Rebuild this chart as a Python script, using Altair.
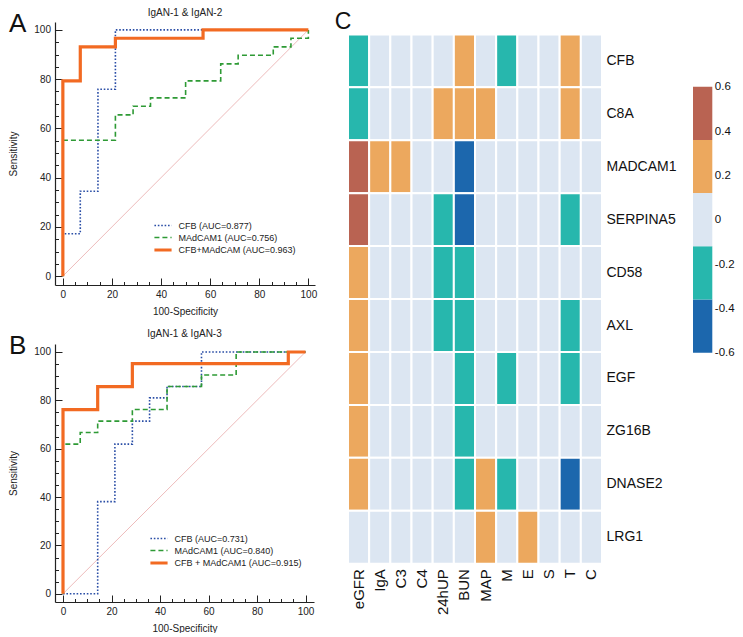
import altair as alt
import pandas as pd

FONT = "Liberation Sans"
INK = "#222222"

# ---------------- ROC data (100-Specificity, Sensitivity) ----------------
a_title = "IgAN-1 & IgAN-2"
a_labels = ["CFB (AUC=0.877)", "MAdCAM1 (AUC=0.756)", "CFB+MAdCAM (AUC=0.963)"]
a_cfb_x = [0, 0, 7.1, 7.1, 14.3, 14.3, 21.4, 21.4, 100]
a_cfb_y = [0, 17.2, 17.2, 34.5, 34.5, 75.9, 75.9, 100, 100]
a_mad_x = [0, 0, 21.4, 21.4, 28.6, 28.6, 35.7, 35.7, 50, 50, 64.3, 64.3, 71.4, 71.4, 85.7, 85.7, 92.9, 92.9, 100, 100]
a_mad_y = [0, 55.2, 55.2, 65.5, 65.5, 69.0, 69.0, 72.4, 72.4, 79.3, 79.3, 86.2, 86.2, 89.7, 89.7, 93.1, 93.1, 96.6, 96.6, 100]
a_comb_x = [0, 0, 7.1, 7.1, 21.4, 21.4, 57.1, 57.1, 100]
a_comb_y = [0, 79.3, 79.3, 93.1, 93.1, 96.6, 96.6, 100, 100]

b_title = "IgAN-1 & IgAN-3"
b_labels = ["CFB (AUC=0.731)", "MAdCAM1 (AUC=0.840)", "CFB + MAdCAM1 (AUC=0.915)"]
b_cfb_x = [0, 14.3, 14.3, 21.4, 21.4, 28.6, 28.6, 35.7, 35.7, 42.9, 42.9, 57.1, 57.1, 100]
b_cfb_y = [0, 0, 38.1, 38.1, 61.9, 61.9, 71.4, 71.4, 81.0, 81.0, 85.7, 85.7, 100, 100]
b_mad_x = [0, 0, 7.1, 7.1, 14.3, 14.3, 28.6, 28.6, 42.9, 42.9, 57.1, 57.1, 71.4, 71.4, 100]
b_mad_y = [0, 61.9, 61.9, 66.7, 66.7, 71.4, 71.4, 76.2, 76.2, 85.7, 85.7, 90.5, 90.5, 100, 100]
b_comb_x = [0, 0, 14.3, 14.3, 28.6, 28.6, 92.9, 92.9, 100]
b_comb_y = [0, 76.2, 76.2, 85.7, 85.7, 95.2, 95.2, 100, 100]

diag_x = [0, 100]
diag_y = [0, 100]
major_ticks = [0, 20, 40, 60, 80, 100]
minor_ticks = [0, 5, 10, 15, 20, 25, 30, 35, 40, 45, 50, 55, 60, 65, 70, 75, 80, 85, 90, 95, 100]

line_colors = ["#2a4ea6", "#2e9a35", "#f26a22"]
line_dashes = [[1.6, 1.8], [5, 3], [1, 0]]
line_widths = [1.6, 1.6, 3.2]

# ---------------- Heatmap data ----------------
genes = ["CFB", "C8A", "MADCAM1", "SERPINA5", "CD58", "AXL", "EGF", "ZG16B", "DNASE2", "LRG1"]
clinical = ["eGFR", "IgA", "C3", "C4", "24hUP", "BUN", "MAP", "M", "E", "S", "T", "C"]
corr_CFB      = [-0.25, 0, 0, 0, 0, 0.25, 0, -0.25, 0, 0, 0.25, 0]
corr_C8A      = [-0.25, 0, 0, 0, 0.25, 0.25, 0.25, 0, 0, 0, 0.25, 0]
corr_MADCAM1  = [0.45, 0.25, 0.25, 0, 0, -0.45, 0, 0, 0, 0, 0, 0]
corr_SERPINA5 = [0.45, 0, 0, 0, -0.25, -0.45, 0, 0, 0, 0, -0.25, 0]
corr_CD58     = [0.25, 0, 0, 0, -0.25, -0.25, 0, 0, 0, 0, 0, 0]
corr_AXL      = [0.25, 0, 0, 0, -0.25, -0.25, 0, 0, 0, 0, -0.25, 0]
corr_EGF      = [0.25, 0, 0, 0, 0, -0.25, 0, -0.25, 0, 0, -0.25, 0]
corr_ZG16B    = [0.25, 0, 0, 0, 0, -0.25, 0, 0, 0, 0, 0, 0]
corr_DNASE2   = [0.25, 0, 0, 0, 0, -0.25, 0.25, -0.25, 0, 0, -0.45, 0]
corr_LRG1     = [0, 0, 0, 0, 0, 0, 0.25, 0, 0.25, 0, 0, 0]
corr_rows = [corr_CFB, corr_C8A, corr_MADCAM1, corr_SERPINA5, corr_CD58,
             corr_AXL, corr_EGF, corr_ZG16B, corr_DNASE2, corr_LRG1]

bin_edges = [-0.36, -0.12, 0.12, 0.36]
bin_colors = ["#1c67ad", "#27b7ad", "#dce6f2", "#eca85e", "#b96352"]
cb_lo = [-0.6, -0.36, -0.12, 0.12, 0.36]
cb_hi = [-0.36, -0.12, 0.12, 0.36, 0.6]
cb_ticks = [0.6, 0.4, 0.2, 0, -0.2, -0.4, -0.6]

INDEP = dict(color="independent", strokeDash="independent", strokeWidth="independent")
LONG_STROKE = "M-1.6,0H1.6"


def roc_panel(letter, title, labels, curves, xdom, ydom, w, h, legend_xy, title_dy):
    rows = []
    for lab, (xs, ys) in zip(labels, curves):
        for i, (xv, yv) in enumerate(zip(xs, ys)):
            rows.append({"series": lab, "i": i, "x": xv, "y": yv})
    df = pd.DataFrame(rows)
    xs = alt.Scale(domain=xdom, nice=False, zero=False)
    ys = alt.Scale(domain=ydom, nice=False, zero=False)
    tick_size = {"condition": {"test": "datum.value % 20 === 0", "value": 7}, "value": 3.5}

    diag = alt.Chart(pd.DataFrame({"x": diag_x, "y": diag_y})).mark_line(
        color="#e9aaaa", strokeWidth=0.8
    ).encode(
        x=alt.X("x:Q", scale=xs, axis=alt.Axis(orient="top", offset=-h, values=minor_ticks,
                                              labels=False, domain=False, title=None, grid=False,
                                              tickColor=INK, tickWidth=1, tickSize=tick_size)),
        y=alt.Y("y:Q", scale=ys, axis=alt.Axis(orient="right", offset=-w, values=minor_ticks,
                                              labels=False, domain=False, title=None, grid=False,
                                              tickColor=INK, tickWidth=1, tickSize=tick_size)),
    )
    leg = alt.Legend(orient="none", legendX=legend_xy[0], legendY=legend_xy[1], title=None,
                     symbolType=LONG_STROKE, symbolSize=115, labelFontSize=9, labelFont=FONT,
                     labelColor=INK, labelOffset=8.5, rowPadding=0, padding=0)
    dom = labels
    lines = alt.Chart(df).mark_line().encode(
        x=alt.X("x:Q", scale=xs, axis=alt.Axis(orient="bottom", values=major_ticks, ticks=False,
                                              tickSize=0, labelPadding=4, title="100-Specificity",
                                              titlePadding=7, grid=False, domainColor=INK,
                                              domainWidth=1.2)),
        y=alt.Y("y:Q", scale=ys, axis=alt.Axis(orient="left", values=major_ticks, ticks=False,
                                              tickSize=0, labelPadding=4.5, title="Sensitivity",
                                              titlePadding=15, grid=False, domainColor=INK,
                                              domainWidth=1.2)),
        color=alt.Color("series:N", scale=alt.Scale(domain=dom, range=line_colors), legend=leg),
        strokeDash=alt.StrokeDash("series:N", scale=alt.Scale(domain=dom, range=line_dashes), legend=leg),
        strokeWidth=alt.StrokeWidth("series:N", scale=alt.Scale(type="ordinal", domain=dom, range=line_widths), legend=leg),
        order=alt.Order("i:Q"),
    )
    tag = alt.Chart(pd.DataFrame({"t": [letter]})).mark_text(
        align="left", baseline="top", fontSize=26, font=FONT, color="#111", x=-46, y=-11
    ).encode(text="t:N")
    head = alt.Chart(pd.DataFrame({"t": [title]})).mark_text(
        align="center", baseline="alphabetic", fontSize=10, font=FONT, color=INK,
        x=w / 2, y=title_dy
    ).encode(text="t:N")
    return alt.layer(diag, lines, tag, head).properties(width=w, height=h)


panel_a = roc_panel("A", a_title, a_labels,
                    [(a_cfb_x, a_cfb_y), (a_mad_x, a_mad_y), (a_comb_x, a_comb_y)],
                    [-3.2, 102.7], [-3.6, 103.2], 260, 263, (101, 197), -6)
panel_b = roc_panel("B", b_title, b_labels,
                    [(b_cfb_x, b_cfb_y), (b_mad_x, b_mad_y), (b_comb_x, b_comb_y)],
                    [-3.3, 103.5], [-3.4, 103.3], 259, 258, (97, 188), -6.7)

# heatmap
hrows = []
for g, vals in zip(genes, corr_rows):
    for c, v in zip(clinical, vals):
        hrows.append({"gene": g, "clin": c, "r": v})
hdf = pd.DataFrame(hrows)
thr = alt.Scale(type="threshold", domain=bin_edges, range=bin_colors)

heat_rect = alt.Chart(hdf).mark_rect(stroke="white", strokeWidth=2).encode(
    x=alt.X("clin:N", sort=clinical, scale=alt.Scale(paddingInner=0, paddingOuter=0),
            axis=alt.Axis(orient="bottom", title=None, labelAngle=270, labelFontSize=15,
                          labelPadding=5, ticks=False, domain=False, labelColor="#111")),
    y=alt.Y("gene:N", sort=genes,
            scale=alt.Scale(paddingInner=0, paddingOuter=0.117, align=1),
            axis=alt.Axis(orient="right", title=None, labelFontSize=14, labelPadding=4,
                          ticks=False, domain=False, labelColor="#111")),
    color=alt.Color("r:Q", scale=thr, legend=None),
)
heat_tag = alt.Chart(pd.DataFrame({"t": ["C"]})).mark_text(
    align="left", baseline="top", fontSize=23, font=FONT, color="#111", x=-13.3, y=-11
).encode(text="t:N")
heat = alt.layer(heat_rect, heat_tag).properties(width=254, height=541.7)

# colour bar
cdf = pd.DataFrame({"lo": cb_lo, "hi": cb_hi, "k": ["bar"] * len(cb_lo),
                    "mid": [(a + b) / 2 for a, b in zip(cb_lo, cb_hi)]})
cbar = alt.Chart(cdf).mark_rect().encode(
    x=alt.X("k:N", axis=None, scale=alt.Scale(paddingInner=0, paddingOuter=0)),
    y=alt.Y("lo:Q", scale=alt.Scale(domain=[-1.552, 0.892], nice=False, zero=False),
            axis=alt.Axis(orient="right", values=cb_ticks, domain=False, ticks=False, tickSize=0,
                          labelPadding=2, labelFontSize=11.5, title=None, grid=False,
                          labelColor="#111",
                          labelExpr="datum.value < 0 ? '-' + format(-datum.value, '.1f') : (datum.value == 0 ? '0' : format(datum.value, '.1f'))")),
    y2="hi:Q",
    color=alt.Color("mid:Q", scale=thr, legend=None),
).properties(width=19.3, height=541.7)

left = alt.vconcat(panel_a, panel_b, spacing=13).resolve_scale(**INDEP).resolve_legend(
    color="independent", strokeDash="independent", strokeWidth="independent")
right = alt.hconcat(heat, cbar, spacing=16).resolve_scale(color="independent")
chart = alt.hconcat(left, right, spacing=17).resolve_scale(**INDEP).resolve_legend(
    color="independent", strokeDash="independent", strokeWidth="independent"
).properties(padding=0).configure(
    font=FONT
).configure_view(stroke=None).configure_axis(
    labelFont=FONT, titleFont=FONT, labelFontSize=10, titleFontSize=10,
    titleFontWeight="normal", labelColor=INK, titleColor=INK
)

chart.save("out.html", embed_options={"renderer": "svg", "actions": False})
